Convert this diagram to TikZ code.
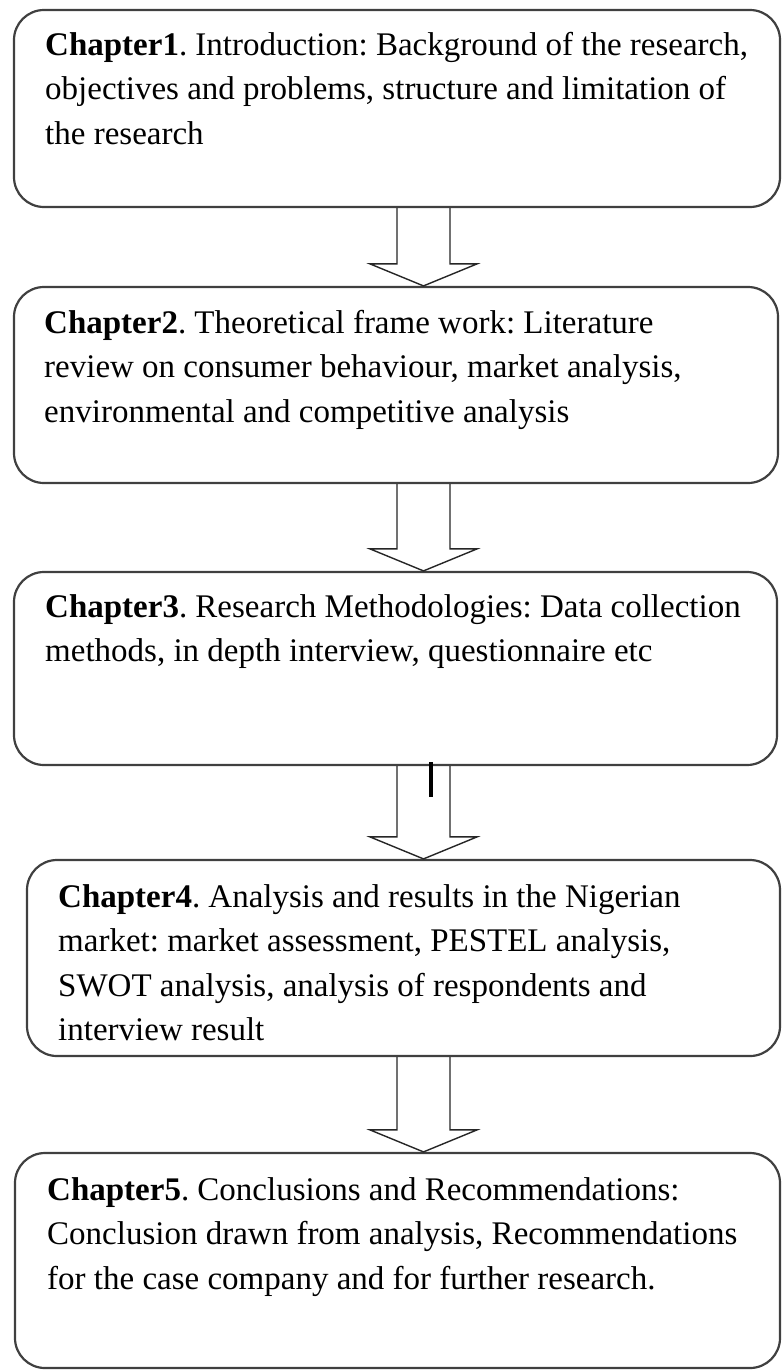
\documentclass[tikz,border=0pt]{standalone}
\usepackage{fontspec}
\setmainfont{Liberation Serif}
\usetikzlibrary{calc}
\begin{document}
\frenchspacing
\begin{tikzpicture}[x=1pt,y=-1pt,
  chbox/.style={rectangle, draw=black!75, line width=2.2pt, rounded corners=30pt,
    inner sep=0pt, minimum width=#1},
  chtext/.style={anchor=north west, inner sep=0pt, align=left,
    font=\fontsize{33}{44.5}\selectfont},
  arrowline/.style={draw=black!85, line width=1.4pt, line join=miter}]
% page
\fill[white] (0,0) rectangle (782,1371);
\useasboundingbox (0,0) rectangle (782,1371);
% x position of the arrow column
\coordinate (ax) at (423.5,0);
% chapter boxes
\node[chbox=766pt, minimum height=197pt] (b1) at (397,108.5) {};
\node[chbox=764pt, minimum height=196pt] (b2) at (396,385) {};
\node[chbox=763pt, minimum height=193pt] (b3) at (395.5,668.5) {};
\node[chbox=753pt, minimum height=196pt] (b4) at (403.5,958) {};
\node[chbox=765pt, minimum height=215pt] (b5) at (397.5,1260.5) {};
% box texts
\node[chtext] (t1) at (45,32) {\textbf{Chapter1}. Introduction: Background of the research,\\objectives and problems, structure and limitation of\\the research};
\node[chtext] (t2) at (44,310) {\textbf{Chapter2}. Theoretical frame work: Literature\\review on consumer behaviour, market analysis,\\environmental and competitive analysis};
\node[chtext] (t3) at (45,594) {\textbf{Chapter3}. Research Methodologies: Data collection\\methods, in depth interview, questionnaire etc};
\node[chtext] (t4) at (58,884) {\textbf{Chapter4}. Analysis and results in the Nigerian\\market: market assessment, PESTEL analysis,\\SWOT analysis, analysis of respondents and\\interview result};
\node[chtext] (t5) at (47,1177) {\textbf{Chapter5}. Conclusions and Recommendations:\\Conclusion drawn from analysis, Recommendations\\for the case company and for further research.};
% hollow block arrows between consecutive boxes
\newcommand\blockarrow[2]{%
  \draw[arrowline] let \p1=(#1.south -| ax), \p2=(#2.north -| ax) in
    ({\x1-26.5pt},\y1) -- ({\x1-26.5pt},{\y2+22pt}) -- ({\x1-53.5pt},{\y2+22pt})
    -- (\x2,\y2) -- ({\x1+53.5pt},{\y2+22pt}) -- ({\x1+26.5pt},{\y2+22pt})
    -- ({\x1+26.5pt},\y1);}
\blockarrow{b1}{b2}
\blockarrow{b2}{b3}
\blockarrow{b3}{b4}
\blockarrow{b4}{b5}
% small vertical mark just under the third box
\draw[line width=3.5pt, black] (431,762) -- (431,797);
\end{tikzpicture}
\end{document}
